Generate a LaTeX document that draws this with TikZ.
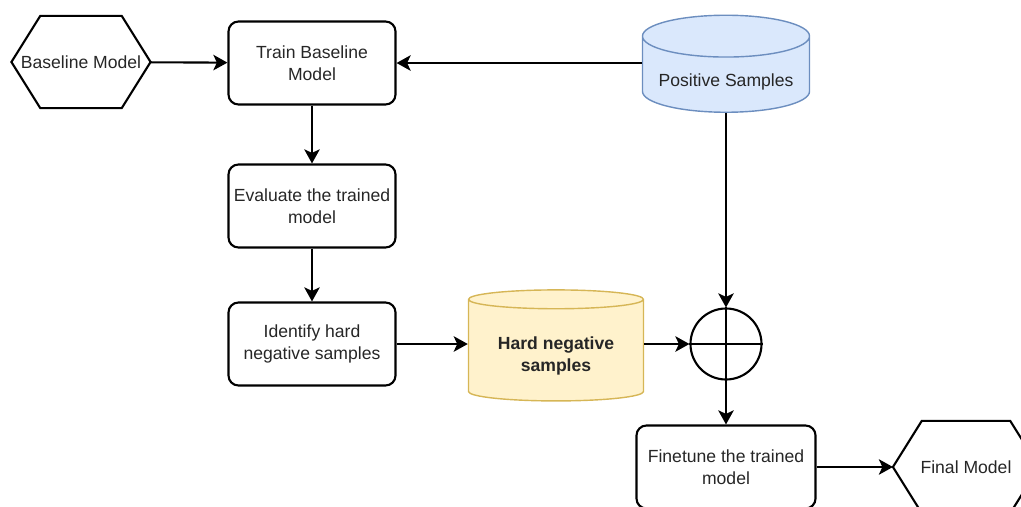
\documentclass[tikz,border=0pt]{standalone}
\usepackage{fontspec}
\setmainfont{Liberation Sans}
\usetikzlibrary{shapes.geometric,arrows.meta}

\definecolor{posfill}{HTML}{DAE8FC}
\definecolor{posline}{HTML}{6C8EBF}
\definecolor{negfill}{HTML}{FFF2CC}
\definecolor{negline}{HTML}{D6B656}
\definecolor{txt}{HTML}{262626}

\tikzset{
  every node/.style={font=\fontsize{12.5}{16}\selectfont, align=center, text=txt},
  stepbox/.style={draw, line width=1.5pt, rounded corners=0.25cm,
    minimum width=4.175cm, minimum height=2.075cm, inner sep=2pt},
  % plain box, the six-sided outline is added round it
  hexnode/.style={minimum height=2.25cm, inner sep=1pt,
    append after command={(\tikzlastnode.west) -- ([xshift=0.72cm]\tikzlastnode.north west)
      -- ([xshift=-0.72cm]\tikzlastnode.north east) -- (\tikzlastnode.east)
      -- ([xshift=-0.72cm]\tikzlastnode.south east) -- ([xshift=0.72cm]\tikzlastnode.south west)
      -- cycle}},
  store/.style={cylinder, shape border rotate=90, draw, line width=1pt,
    cylinder uses custom fill},
  flow/.style={line width=1.5pt, -{Stealth[length=10pt,width=11pt,inset=2.5pt]}}
}
\newcommand{\lowtext}[2]{\raisebox{-#1}[\height][\depth]{#2}}

\begin{document}
\begin{tikzpicture}[x=0.025cm, y=-0.025cm]
      \useasboundingbox (0,0) rectangle (1021,507);
      \clip (0,0) rectangle (1021,507);
      \draw[line width=1.5pt]
        (81,62) node[hexnode, minimum width=3.425cm] (base){Baseline Model}
        (966,467) node[hexnode, minimum width=3.6cm] (final){Final Model};
      \draw
        (312,63) node[stepbox] (train){Train Baseline\\Model}
        (312,206) node[stepbox] (eval){Evaluate the trained\\model}
        (312,344) node[stepbox] (ident){Identify hard\\negative samples}
        (726,467) node[stepbox, minimum width=4.475cm] (tune){Finetune the trained\\model};
      \node[store, draw=posline, cylinder body fill=posfill, cylinder end fill=posfill,
        minimum width=4.175cm, minimum height=2.425cm, aspect=0.29]
        (pos) at (726,78) {\lowtext{0.1cm}{Positive Samples}};
      \node[store, draw=negline, cylinder body fill=negfill, cylinder end fill=negfill,
        minimum width=4.375cm, minimum height=2.775cm, aspect=0.15]
        (neg) at (556,352) {\lowtext{0.1cm}{\bfseries Hard negative}\\\lowtext{0.1cm}{\bfseries samples}};
      \node[circle, draw, line width=1.5pt, minimum size=1.775cm] (sum) at (726,344) {};
      \draw[line width=1.5pt] (sum.north) -- (sum.south) (sum.west) -- (sum.east);
      \begin{scope}[flow]
        \draw (base) to (train);
        \draw (pos.west |- train.east) to (train.east);
        \draw (train) to (eval);
        \draw (eval) to (ident);
        \draw (ident.east) to (ident.east -| neg.west);
        \draw (neg.east |- sum.west) to (sum.west);
        \draw (pos) to (sum);
        \draw (sum) to (tune);
        \draw (tune) to (final);
      \end{scope}
    \end{tikzpicture}
\end{document}
